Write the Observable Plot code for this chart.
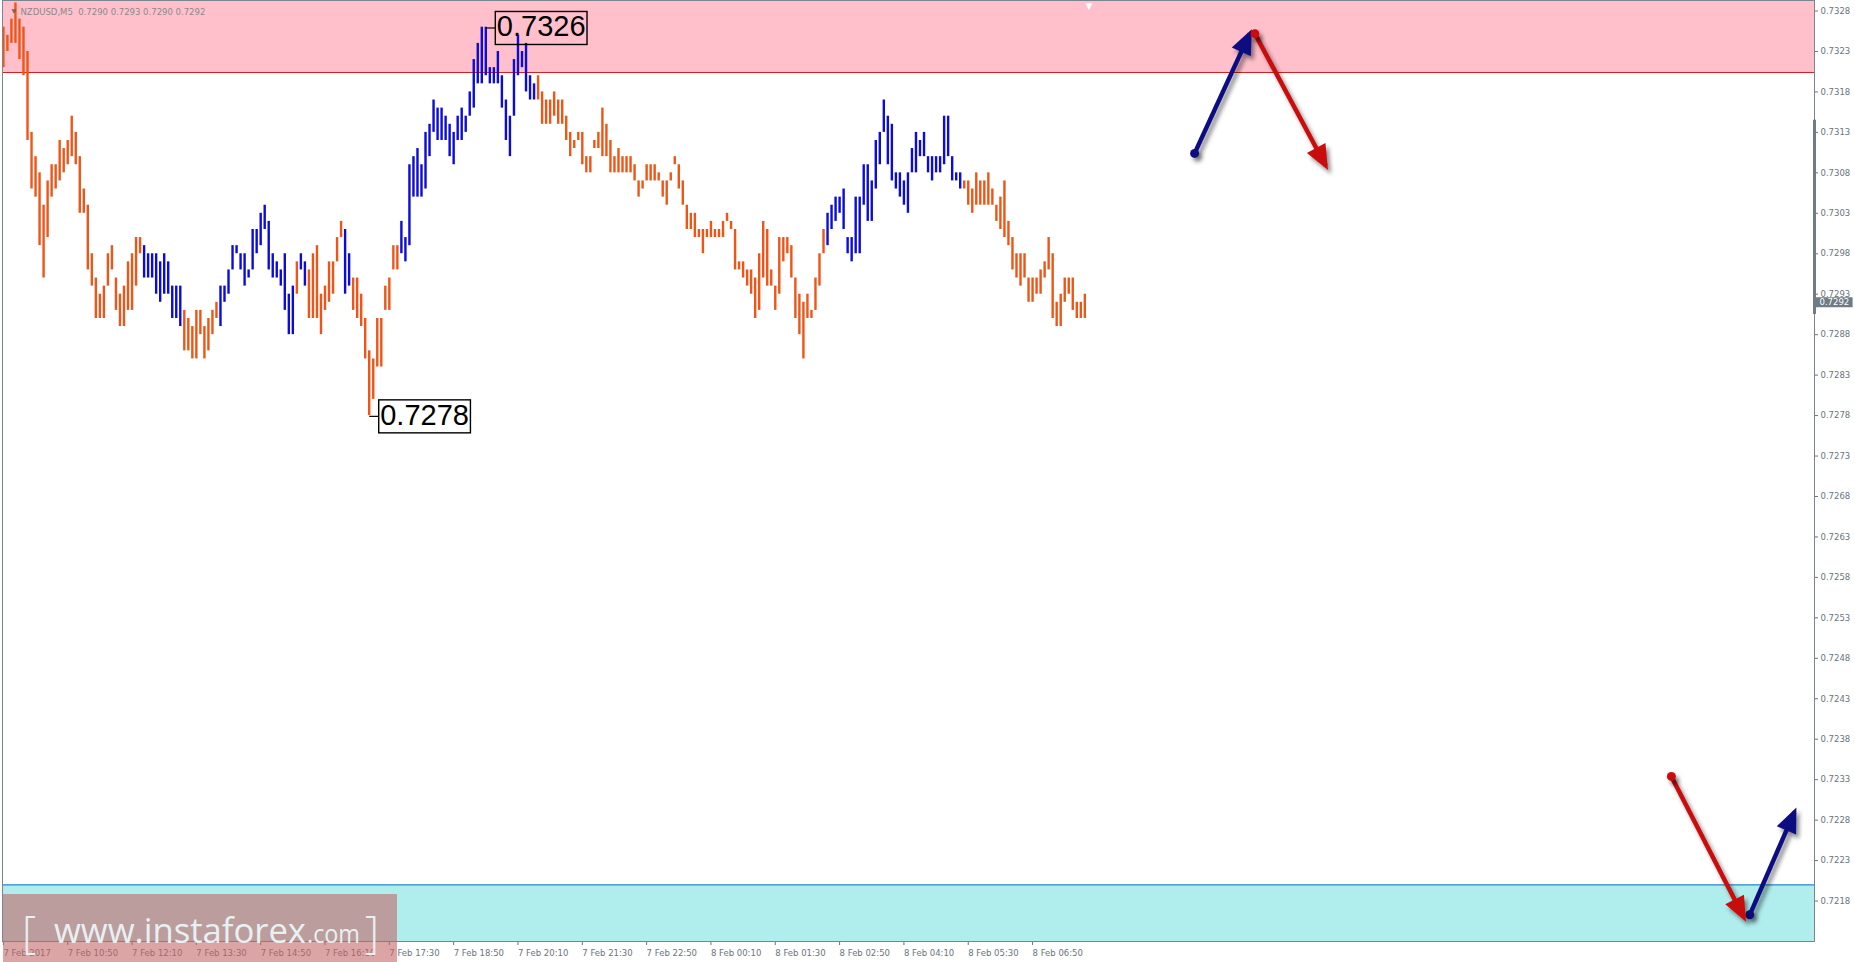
<!DOCTYPE html>
<html><head><meta charset="utf-8">
<script src="https://cdn.jsdelivr.net/npm/d3@7"></script>
<script src="https://cdn.jsdelivr.net/npm/@observablehq/plot@0.6"></script>
<style>
html,body{margin:0;padding:0;background:#fff;}
#wrap{position:relative;width:1855px;height:962px;overflow:hidden;}
#wm{position:absolute;left:0;top:0;pointer-events:none;}
</style></head>
<body><div id="wrap"></div>
<script>
// ---------- data ----------
const symbol = "NZDUSD,M5";
const lastBar = [0.7290, 0.7293, 0.7290, 0.7292]; // O H L C
const highs = [
0.7326,0.7325,0.7327,0.7329,0.7327,0.7326,0.7323,0.7313,0.7310,0.7308,
0.7304,0.7307,0.7309,0.7309,0.7312,0.7311,0.7312,0.7315,0.7313,0.7310,
0.7306,0.7304,0.7298,0.7295,0.7293,0.7294,0.7298,0.7299,0.7295,0.7293,
0.7294,0.7297,0.7298,0.7300,0.7300,0.7299,0.7298,0.7298,0.7298,0.7297,
0.7298,0.7297,0.7294,0.7294,0.7294,0.7291,0.7290,0.7289,0.7291,0.7291,
0.7289,0.7290,0.7291,0.7292,0.7294,0.7294,0.7296,0.7299,0.7299,0.7298,
0.7298,0.7296,0.7301,0.7301,0.7303,0.7304,0.7302,0.7298,0.7297,0.7296,
0.7298,0.7293,0.7294,0.7297,0.7298,0.7297,0.7296,0.7298,0.7299,0.7293,
0.7294,0.7297,0.7297,0.7300,0.7302,0.7301,0.7298,0.7295,0.7295,0.7293,
0.7290,0.7286,0.7285,0.7290,0.7290,0.7294,0.7295,0.7299,0.7299,0.7302,
0.7300,0.7309,0.7310,0.7311,0.7309,0.7313,0.7314,0.7317,0.7316,0.7316,
0.7315,0.7314,0.7313,0.7315,0.7316,0.7315,0.7318,0.7322,0.7324,0.7326,
0.7326,0.7321,0.7321,0.7323,0.7320,0.7317,0.7315,0.7322,0.7325,0.7323,
0.7324,0.7320,0.7319,0.7320,0.7318,0.7317,0.7317,0.7318,0.7317,0.7317,
0.7315,0.7313,0.7312,0.7313,0.7313,0.7310,0.7310,0.7312,0.7313,0.7316,
0.7314,0.7312,0.7310,0.7311,0.7310,0.7310,0.7310,0.7309,0.7307,0.7307,
0.7309,0.7309,0.7309,0.7308,0.7307,0.7307,0.7308,0.7310,0.7309,0.7307,
0.7304,0.7303,0.7303,0.7301,0.7301,0.7301,0.7302,0.7301,0.7301,0.7302,
0.7303,0.7302,0.7301,0.7297,0.7297,0.7296,0.7296,0.7295,0.7298,0.7302,
0.7301,0.7296,0.7294,0.7300,0.7300,0.7300,0.7299,0.7295,0.7293,0.7292,
0.7293,0.7291,0.7295,0.7298,0.7301,0.7303,0.7304,0.7305,0.7305,0.7306,
0.7300,0.7300,0.7305,0.7305,0.7309,0.7309,0.7307,0.7312,0.7313,0.7317,
0.7315,0.7314,0.7308,0.7308,0.7307,0.7308,0.7311,0.7313,0.7312,0.7313,
0.7310,0.7310,0.7310,0.7310,0.7315,0.7315,0.7310,0.7308,0.7308,0.7307,
0.7307,0.7306,0.7308,0.7307,0.7307,0.7308,0.7306,0.7304,0.7305,0.7307,
0.7302,0.7300,0.7298,0.7298,0.7298,0.7295,0.7295,0.7295,0.7296,0.7297,
0.7300,0.7298,0.7292,0.7293,0.7295,0.7295,0.7295,0.7292,0.7292,0.7293
];
const lows = [
0.7321,0.7323,0.7324,0.7324,0.7322,0.7320,0.7312,0.7306,0.7305,0.7299,
0.7295,0.7300,0.7305,0.7306,0.7307,0.7308,0.7309,0.7310,0.7309,0.7303,
0.7303,0.7296,0.7294,0.7290,0.7290,0.7290,0.7294,0.7296,0.7291,0.7289,
0.7289,0.7291,0.7291,0.7294,0.7298,0.7295,0.7295,0.7295,0.7293,0.7292,
0.7293,0.7293,0.7290,0.7290,0.7289,0.7286,0.7286,0.7285,0.7285,0.7288,
0.7285,0.7286,0.7288,0.7290,0.7289,0.7292,0.7293,0.7296,0.7298,0.7296,
0.7294,0.7295,0.7296,0.7298,0.7299,0.7301,0.7296,0.7295,0.7295,0.7294,
0.7291,0.7288,0.7288,0.7293,0.7296,0.7294,0.7290,0.7290,0.7290,0.7288,
0.7291,0.7292,0.7293,0.7297,0.7300,0.7293,0.7294,0.7291,0.7290,0.7289,
0.7285,0.7278,0.7280,0.7284,0.7284,0.7291,0.7291,0.7296,0.7296,0.7298,
0.7297,0.7299,0.7305,0.7305,0.7305,0.7306,0.7310,0.7313,0.7312,0.7312,
0.7312,0.7310,0.7309,0.7312,0.7312,0.7313,0.7315,0.7316,0.7319,0.7319,
0.7320,0.7319,0.7319,0.7319,0.7316,0.7312,0.7310,0.7315,0.7320,0.7321,
0.7318,0.7317,0.7317,0.7317,0.7314,0.7314,0.7314,0.7315,0.7314,0.7314,
0.7312,0.7310,0.7311,0.7312,0.7309,0.7308,0.7308,0.7311,0.7311,0.7310,
0.7310,0.7308,0.7308,0.7308,0.7308,0.7308,0.7308,0.7307,0.7305,0.7306,
0.7307,0.7307,0.7307,0.7307,0.7305,0.7304,0.7307,0.7309,0.7306,0.7304,
0.7301,0.7301,0.7300,0.7300,0.7298,0.7300,0.7300,0.7300,0.7300,0.7300,
0.7302,0.7301,0.7296,0.7296,0.7295,0.7294,0.7293,0.7290,0.7291,0.7295,
0.7294,0.7294,0.7291,0.7293,0.7297,0.7298,0.7295,0.7290,0.7288,0.7285,
0.7290,0.7290,0.7291,0.7294,0.7298,0.7299,0.7301,0.7302,0.7303,0.7301,
0.7298,0.7297,0.7298,0.7298,0.7304,0.7302,0.7302,0.7306,0.7309,0.7313,
0.7309,0.7307,0.7306,0.7305,0.7304,0.7303,0.7308,0.7308,0.7310,0.7310,
0.7308,0.7307,0.7308,0.7308,0.7309,0.7310,0.7307,0.7307,0.7306,0.7306,
0.7304,0.7303,0.7304,0.7304,0.7304,0.7304,0.7304,0.7302,0.7301,0.7300,
0.7299,0.7296,0.7295,0.7294,0.7295,0.7292,0.7292,0.7293,0.7293,0.7295,
0.7296,0.7290,0.7289,0.7289,0.7292,0.7293,0.7291,0.7290,0.7290,0.7290
];
// bar index ranges drawn in blue (rising waves)
const upWaves = [[35,44],[54,72],[74,75],[85,86],[99,132],[205,238]];
const timeTickBars = [0,16,32,48,64,80,96,112,128,144,160,176,192,208,224,240,256];
const timeTickLabels = ["7 Feb 2017","7 Feb 10:50","7 Feb 12:10","7 Feb 13:30","7 Feb 14:50","7 Feb 16:10",
  "7 Feb 17:30","7 Feb 18:50","7 Feb 20:10","7 Feb 21:30","7 Feb 22:50","8 Feb 00:10","8 Feb 01:30",
  "8 Feb 02:50","8 Feb 04:10","8 Feb 05:30","8 Feb 06:50"];
const priceTicks = [0.7218,0.7223,0.7228,0.7233,0.7238,0.7243,0.7248,0.7253,0.7258,0.7263,0.7268,0.7273,
  0.7278,0.7283,0.7288,0.7293,0.7298,0.7303,0.7308,0.7313,0.7318,0.7323,0.7328];
const pinkZone = [0.73204, 0.7335];
const cyanTop = 0.7220;
const axisRange = [0.72905, 0.73145];
const extremeBars = [120, 91];
const extremePrices = [0.7326, 0.7278];
// forecast arrows (bar index / price)
const arrowX1 = [296.3, 311.3, 414.9, 434.4];
const arrowY1 = [0.73104, 0.73252, 0.72334, 0.72163];
const arrowX2 = [310.0, 328.9, 432.9, 445.5];
const arrowY2 = [0.73252, 0.73089, 0.72160, 0.72290];
const arrowDir = ["up", "down", "down", "up"];

// ---------- layout ----------
const W = 1855, H = 962;
const xDomain = [-0.22, 450.5];
const yDomain = [0.72130, 0.73293];
const ORANGE = "#ee5516", BLUE = "#0b0bdc", NAVY = "#0c0c82", RED = "#c80a0a", AXIS = "#7b858e";
const fmt = d3.format(".4f");

const bars = highs.map((h, i) => ({i, high: h, low: lows[i],
  up: upWaves.some(([a, b]) => i >= a && i <= b)}));
const arrows = arrowX1.map((x1, k) => ({x1, y1: arrowY1[k], x2: arrowX2[k], y2: arrowY2[k], dir: arrowDir[k]}));
const upArrows = arrows.filter(d => d.dir === "up");
const downArrows = arrows.filter(d => d.dir === "down");
const extremes = extremeBars.map((i, k) => ({i, price: extremePrices[k]}));
const header = symbol + "\u00a0\u00a0" + lastBar.map(fmt).join(" ");

const chart = Plot.plot({
  width: W, height: H,
  marginLeft: 2, marginRight: 41, marginTop: 0, marginBottom: 21,
  style: {fontFamily: "'DejaVu Sans', sans-serif", fontSize: "8.5px", color: "#6b737c", background: "#fff"},
  x: {domain: xDomain, axis: "bottom", ticks: timeTickBars,
      tickFormat: i => timeTickLabels[timeTickBars.indexOf(i)], tickSize: 4, tickPadding: 4, label: null},
  y: {domain: yDomain, axis: "right", ticks: priceTicks, tickFormat: fmt,
      tickSize: 3, tickPadding: 3, label: null},
  marks: [
    Plot.rect([pinkZone], {y1: d => d[0], y2: d => d[1], fill: "#ffc0cb"}),
    Plot.rect([[yDomain[0], cyanTop]], {y1: d => d[0], y2: d => d[1], fill: "#b0eded"}),
    Plot.ruleY([pinkZone[0]], {stroke: "#d42020", strokeWidth: 1.2}),
    Plot.ruleY([cyanTop], {stroke: "#2b8ccd", strokeWidth: 1.2}),
    Plot.ruleX(bars.filter(d => !d.up), {x: "i", y1: "low", y2: "high", stroke: ORANGE, strokeWidth: 2.4}),
    Plot.ruleX(bars.filter(d => d.up), {x: "i", y1: "low", y2: "high", stroke: BLUE, strokeWidth: 2.4}),
    Plot.frame({stroke: AXIS}),
    Plot.ruleX([xDomain[1]], {y1: axisRange[0], y2: axisRange[1], stroke: "#6f7b85", strokeWidth: 3}),
    Plot.ruleY([lastBar[3]], {x1: xDomain[1], x2: xDomain[1] + 9.6, stroke: "#6f7b85", strokeWidth: 10}),
    Plot.text([lastBar[3]], {x: xDomain[1], y: d => d, text: d => fmt(d), dx: 5, textAnchor: "start",
      fill: "#ffffff", fontSize: 8.5}),
    Plot.text([header], {frameAnchor: "top-left", dx: 18, dy: 8, textAnchor: "start", fill: "#8a8a8a", fontSize: 8.5}),
    Plot.text(["\u25BC"], {frameAnchor: "top-left", dx: 9, dy: 8, fill: "#6a6a6a", fontSize: 6}),
    Plot.text([highs.length], {x: d => d, frameAnchor: "top", dy: 2, text: () => "\u25BC", fill: "#ffffff", fontSize: 9}),
    Plot.text(extremes, {x: "i", y: "price", text: d => fmt(d.price), textAnchor: "start", dx: 11,
      fontSize: 29, fontFamily: "'Liberation Sans', Arial, sans-serif", fill: "#000",
      ariaLabel: () => "extreme-label"}),
    Plot.link(upArrows, {x1: "x1", y1: "y1", x2: "x2", y2: "y2", stroke: NAVY, strokeWidth: 4.5,
      ariaLabel: () => "arrow-up"}),
    Plot.dot(upArrows, {x: "x1", y: "y1", r: 4.5, fill: NAVY, ariaLabel: () => "arrow-dot"}),
    Plot.link(downArrows, {x1: "x1", y1: "y1", x2: "x2", y2: "y2", stroke: RED, strokeWidth: 4.5,
      ariaLabel: () => "arrow-down"}),
    Plot.dot(downArrows, {x: "x1", y: "y1", r: 4.5, fill: RED, ariaLabel: () => "arrow-dot"})
  ]
});

const wrap = document.getElementById("wrap");
wrap.appendChild(chart);
const svgEl = chart.tagName.toLowerCase() === "svg" ? chart : chart.querySelector("svg");
const svg = d3.select(svgEl);

// left-align time labels like the terminal does
svg.selectAll('[aria-label^="x-axis"] text').attr("text-anchor", "start");

// arrowheads + shadows
const defs = svg.insert("defs", ":first-child");
const f = defs.append("filter").attr("id", "shd").attr("filterUnits", "userSpaceOnUse")
  .attr("x", 0).attr("y", 0).attr("width", W).attr("height", H);
f.append("feDropShadow").attr("dx", 3).attr("dy", 4).attr("stdDeviation", 2.2)
  .attr("flood-color", "#000").attr("flood-opacity", 0.45);
[["head-up", NAVY], ["head-down", RED]].forEach(([id, c]) => {
  defs.append("marker").attr("id", id).attr("markerUnits", "userSpaceOnUse")
    .attr("viewBox", "-24 -12 30 24").attr("markerWidth", 30).attr("markerHeight", 24)
    .attr("refX", 0).attr("refY", 0).attr("orient", "auto").attr("overflow", "visible")
    .append("path").attr("d", "M5,0L-20,-10.5L-20,10.5Z").attr("fill", c);
});
svg.selectAll('[aria-label="arrow-up"]').attr("marker-end", "url(#head-up)");
svg.selectAll('[aria-label="arrow-down"]').attr("marker-end", "url(#head-down)");
svg.selectAll('[aria-label^="arrow"]').each(function() {
  d3.select(this.parentNode).attr("filter", "url(#shd)");
});

// boxes around extreme labels (drawn in the svg's own coordinates)
const sr = svgEl.getBoundingClientRect();
const boxLayer = svg.append("g").attr("aria-label", "extreme-boxes");
svg.selectAll('[aria-label="extreme-label"]').each(function() {
  const r = this.getBoundingClientRect();
  const x = r.left - sr.left - 1.5, y = r.top - sr.top + 1, w = r.width + 3, h = r.height + 1;
  boxLayer.append("rect").attr("x", x).attr("y", y).attr("width", w).attr("height", h)
    .attr("fill", "none").attr("stroke", "#000").attr("stroke-width", 1.4);
  boxLayer.append("line").attr("x1", x - 9.5).attr("x2", x).attr("y1", y + h / 2).attr("y2", y + h / 2)
    .attr("stroke", "#000").attr("stroke-width", 1.2);
});

// watermark
const wm = d3.select(wrap).append("svg").attr("id", "wm").attr("width", W).attr("height", H);
wm.append("rect").attr("x", 3).attr("y", 894).attr("width", 394).attr("height", 70)
  .attr("fill", "rgba(195,100,100,0.58)");
const wt = wm.append("g").attr("fill", "#e9f0f2").attr("font-family", "'Open Sans', sans-serif");
wt.append("text").attr("x", 22).attr("y", 948).attr("font-size", 44).attr("font-weight", 300).text("[");
wt.append("text").attr("x", 54).attr("y", 943).attr("font-size", 35)
  .attr("textLength", 252).attr("lengthAdjust", "spacingAndGlyphs").text("www.instaforex");
wt.append("text").attr("x", 307).attr("y", 943).attr("font-size", 25)
  .attr("textLength", 53).attr("lengthAdjust", "spacingAndGlyphs").text(".com");
wt.append("text").attr("x", 365).attr("y", 948).attr("font-size", 44).attr("font-weight", 300).text("]");
</script>
</body></html>
